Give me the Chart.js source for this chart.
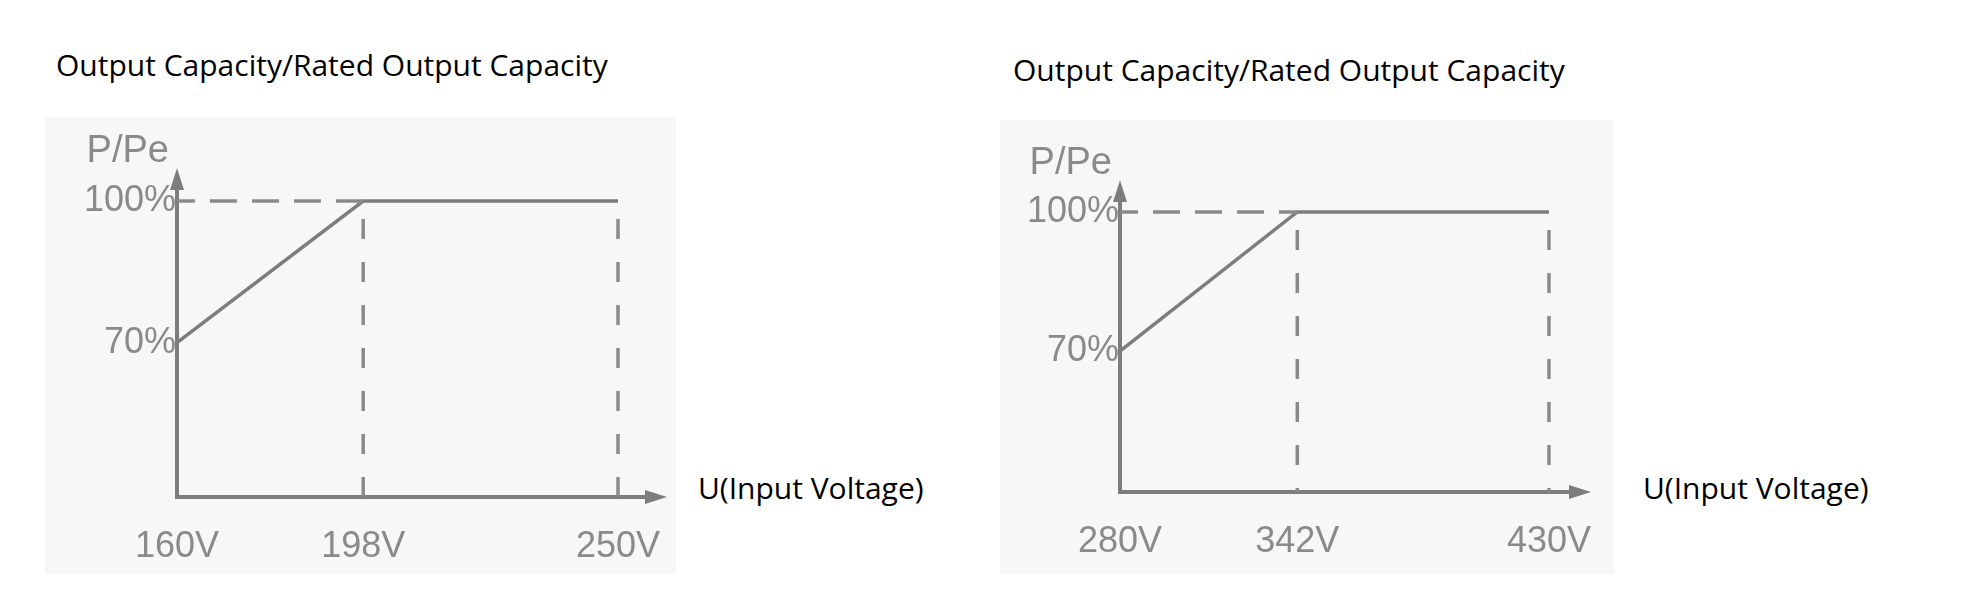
<!DOCTYPE html>
<html>
<head>
<meta charset="utf-8">
<script src="https://cdn.jsdelivr.net/npm/chart.js@4.4.1/dist/chart.umd.min.js"></script>
<style>
  html, body { margin: 0; padding: 0; background: #fff; }
  body { width: 1977px; height: 609px; position: relative; overflow: hidden; }
  .panel { position: absolute; background: #f7f7f7; }
  .label { position: absolute; font-family: "Open Sans", sans-serif; font-size: 30px; line-height: 1; color: #000; white-space: nowrap; }
  canvas { position: absolute; top: 0; }
</style>
</head>
<body>
<div class="panel" style="left:45px;top:117px;width:631px;height:457px"></div>
<div class="panel" style="left:1000px;top:120px;width:614px;height:454px"></div>

<div class="label" style="left:56px;top:50px">Output Capacity/Rated Output Capacity</div>
<div class="label" style="left:1013px;top:55px">Output Capacity/Rated Output Capacity</div>
<div class="label" style="left:698px;top:473px">U(Input Voltage)</div>
<div class="label" style="left:1643px;top:473px">U(Input Voltage)</div>

<canvas id="lowChart" width="980" height="609" style="left:0"></canvas>
<canvas id="highChart" width="997" height="609" style="left:980px"></canvas>

<script>
// input voltage break points (V) for the two models
const lowVolts = [160, 198, 250];
const highVolts = [280, 342, 430];
// output capacity as % of rated capacity at those points
const capacity = [70, 100, 100];
// labelled levels on the vertical axis
const capacityTicks = [70, 100];

const ink = '#7d7d7d';
const tickFont = { family: '"Liberation Sans", Arial, sans-serif', size: 36 };

// axes with arrow heads + the P/Pe caption
const arrowAxes = {
  id: 'arrowAxes',
  beforeDatasetsDraw(chart) {
    const { ctx, chartArea: a } = chart;
    ctx.save();
    ctx.strokeStyle = ink;
    ctx.fillStyle = ink;
    ctx.lineWidth = 4;
    ctx.beginPath();
    ctx.moveTo(a.left, a.top + 18);
    ctx.lineTo(a.left, a.bottom);
    ctx.lineTo(a.right - 18, a.bottom);
    ctx.stroke();
    ctx.beginPath();
    ctx.moveTo(a.left, a.top);
    ctx.lineTo(a.left - 7, a.top + 22);
    ctx.lineTo(a.left + 7, a.top + 22);
    ctx.closePath();
    ctx.fill();
    ctx.beginPath();
    ctx.moveTo(a.right, a.bottom);
    ctx.lineTo(a.right - 22, a.bottom - 7);
    ctx.lineTo(a.right - 22, a.bottom + 7);
    ctx.closePath();
    ctx.fill();
    ctx.fillStyle = '#8a8a8a';
    ctx.font = '38px "Liberation Sans", Arial, sans-serif';
    ctx.textAlign = 'right';
    ctx.textBaseline = 'alphabetic';
    ctx.fillText('P/Pe', a.left - 8, a.top - 6);
    ctx.restore();
  }
};

function buildChart(canvasId, volts, frame) {
  const top = capacity[1];
  const curve = volts.map((v, i) => ({ x: v, y: capacity[i] }));
  const guide = (pts, dash, offset) => ({
    data: pts, borderColor: '#8a8a8a', borderWidth: 3.5,
    borderDash: dash, borderDashOffset: offset, pointRadius: 0, clip: false
  });

  new Chart(document.getElementById(canvasId), {
    type: 'line',
    data: {
      datasets: [
        guide([{ x: volts[0], y: top }, { x: volts[1], y: top }], [27, 15], 9),
        guide([{ x: volts[1], y: top }, { x: volts[1], y: frame.yMin }], [20, 23], 25),
        guide([{ x: volts[2], y: top }, { x: volts[2], y: frame.yMin }], [20, 23], 25),
        { data: curve, borderColor: ink, borderWidth: 3.5, pointRadius: 0, tension: 0, clip: false }
      ]
    },
    options: {
      responsive: false,
      animation: false,
      layout: { padding: frame.pad },
      plugins: { legend: { display: false }, tooltip: { enabled: false } },
      scales: {
        x: {
          type: 'linear', min: frame.xMin, max: frame.xMax,
          grid: { display: false, drawTicks: false }, border: { display: false },
          afterBuildTicks: s => { s.ticks = volts.map(v => ({ value: v })); },
          ticks: { callback: v => v + 'V', font: tickFont, color: '#8a8a8a', padding: 28, maxRotation: 0, autoSkip: false },
          afterFit: s => { s.height = 80; }
        },
        y: {
          min: frame.yMin, max: frame.yMax,
          grid: { display: false, drawTicks: false }, border: { display: false },
          afterBuildTicks: s => { s.ticks = capacityTicks.map(v => ({ value: v })); },
          ticks: { callback: v => v + '%', font: tickFont, color: '#8a8a8a', padding: 1 },
          afterFit: s => { s.width = 120; }
        }
      }
    },
    plugins: [arrowAxes]
  });
}

buildChart('lowChart', lowVolts, {
  xMin: 160, xMax: 260, yMin: 37.3, yMax: 107,
  pad: { left: 57, top: 168, right: 313, bottom: 32 }
});
buildChart('highChart', highVolts, {
  xMin: 280, xMax: 444.7, yMin: 39.6, yMax: 106.9,
  pad: { left: 20, top: 180, right: 386, bottom: 37 }
});
</script>
</body>
</html>
